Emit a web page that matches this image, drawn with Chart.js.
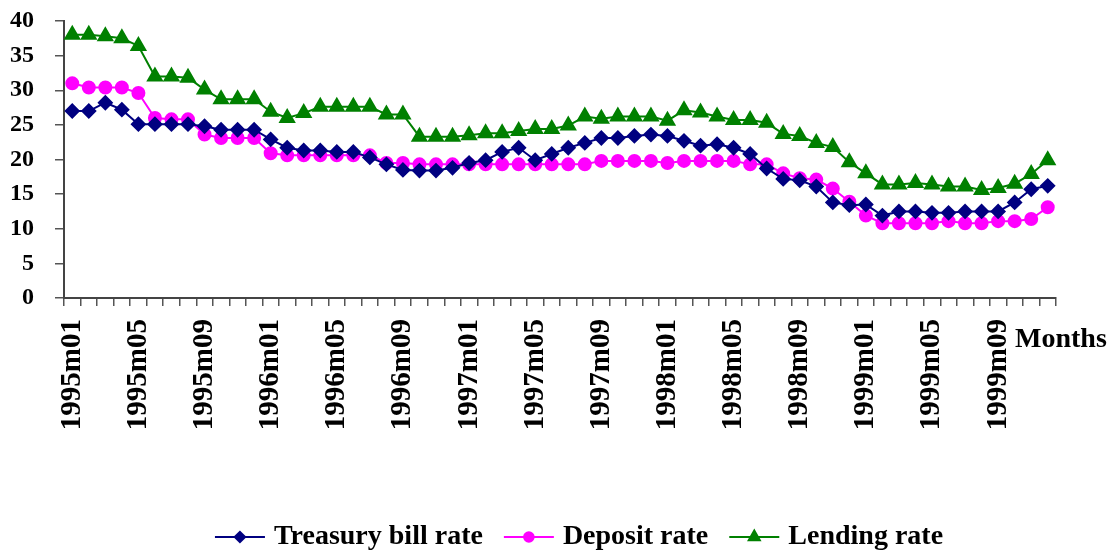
<!DOCTYPE html>
<html>
<head>
<meta charset="utf-8">
<script src="https://cdn.jsdelivr.net/npm/chart.js@4/dist/chart.umd.min.js"></script>
<style>
  html, body { margin: 0; padding: 0; background: #fff; overflow: hidden; }
  #wrap { width: 1115px; height: 554px; }
</style>
</head>
<body>
<div id="wrap"><canvas id="rates" width="1115" height="554"></canvas></div>
<script>
// months 1995m01 .. 1999m12
const months = [];
for (let y = 1995; y <= 1999; y++) {
    for (let m = 1; m <= 12; m++) months.push(y + 'm' + (m < 10 ? '0' + m : m));
}
const tickMonths = ['1995m01', '1995m05', '1995m09', '1996m01', '1996m05', '1996m09',
    '1997m01', '1997m05', '1997m09', '1998m01', '1998m05', '1998m09',
    '1999m01', '1999m05', '1999m09'];

const treasuryRate = [27.0, 27.0, 28.2, 27.2, 25.1, 25.1, 25.1, 25.1, 24.8, 24.3, 24.3, 24.3,
    22.9, 21.7, 21.3, 21.3, 21.1, 21.1, 20.3, 19.3, 18.5, 18.4, 18.4, 18.8,
    19.5, 19.9, 21.1, 21.7, 19.9, 20.8, 21.7, 22.4, 23.1, 23.1, 23.4, 23.6,
    23.4, 22.7, 22.0, 22.2, 21.7, 20.8, 18.7, 17.2, 17.0, 16.1, 13.8, 13.4,
    13.5, 11.9, 12.5, 12.5, 12.3, 12.3, 12.5, 12.5, 12.5, 13.8, 15.7, 16.2];
const depositRate = [31.0, 30.4, 30.4, 30.4, 29.6, 26.0, 25.8, 25.8, 23.6, 23.1, 23.1, 23.1,
    20.9, 20.6, 20.6, 20.6, 20.6, 20.6, 20.6, 19.5, 19.5, 19.3, 19.3, 19.3,
    19.3, 19.3, 19.3, 19.3, 19.3, 19.3, 19.3, 19.3, 19.8, 19.8, 19.8, 19.8,
    19.5, 19.8, 19.8, 19.8, 19.8, 19.3, 19.3, 18.0, 17.3, 17.1, 15.8, 13.9,
    11.9, 10.8, 10.8, 10.8, 10.8, 11.1, 10.8, 10.8, 11.1, 11.1, 11.4, 13.1];
const lendingRate = [38.0, 38.0, 37.8, 37.5, 36.4, 32.0, 32.0, 31.8, 30.1, 28.7, 28.7, 28.7,
    26.9, 26.0, 26.7, 27.6, 27.6, 27.6, 27.6, 26.5, 26.5, 23.3, 23.3, 23.3,
    23.5, 23.8, 23.8, 24.1, 24.4, 24.4, 24.9, 26.2, 25.9, 26.2, 26.2, 26.2,
    25.6, 27.1, 26.8, 26.2, 25.7, 25.7, 25.3, 23.7, 23.4, 22.4, 21.8, 19.6,
    18.0, 16.4, 16.4, 16.6, 16.4, 16.1, 16.1, 15.6, 15.9, 16.5, 17.9, 19.9];

const FONT = "'Liberation Serif', 'Times New Roman', serif";
Chart.defaults.font.family = FONT;
Chart.defaults.font.weight = 'bold';
Chart.defaults.color = '#000';

// "Months" text next to the x axis
const monthsTitle = {
    id: 'monthsTitle',
    afterDraw(chart) {
        const ctx = chart.ctx, a = chart.chartArea;
        ctx.save();
        ctx.font = 'bold 28px ' + FONT;
        ctx.fillStyle = '#000';
        ctx.textBaseline = 'alphabetic';
        ctx.fillText('Months', a.right - 41, a.bottom + 49);
        ctx.restore();
    }
};

// legend: short line with the marker on it, then the label
const lineLegend = {
    id: 'lineLegend',
    afterDraw(chart) {
        const ctx = chart.ctx;
        const sets = chart.data.datasets;
        const lineW = 50, gap = 9, between = 21, cy = 537;
        ctx.save();
        ctx.font = 'bold 28px ' + FONT;
        const widths = sets.map(d => ctx.measureText(d.label).width);
        let total = widths.reduce((s, w) => s + lineW + gap + w, 0) + between * (sets.length - 1);
        let x = 579 - total / 2;
        sets.forEach((d, i) => {
            ctx.strokeStyle = d.borderColor;
            ctx.lineWidth = 2;
            ctx.beginPath();
            ctx.moveTo(x, cy);
            ctx.lineTo(x + lineW, cy);
            ctx.stroke();
            Chart.helpers.drawPoint(ctx, {
                pointStyle: d.pointStyle, radius: d.pointRadius * 0.8,
                borderWidth: 1, rotation: 0
            }, x + lineW / 2, cy);
            ctx.fillStyle = d.borderColor;
            ctx.fill();
            ctx.fillStyle = '#000';
            ctx.textBaseline = 'middle';
            ctx.fillText(d.label, x + lineW + gap, cy);
            x += lineW + gap + widths[i] + between;
        });
        ctx.restore();
    }
};

function series(label, data, color, style, r) {
    return {
        label: label,
        data: data,
        borderColor: color,
        backgroundColor: color,
        pointBackgroundColor: color,
        pointBorderColor: color,
        borderWidth: 2,
        pointStyle: style,
        pointRadius: r,
        pointHoverRadius: r,
        tension: 0
    };
}

new Chart(document.getElementById('rates'), {
    type: 'line',
    data: {
        labels: months,
        datasets: [
            series('Treasury bill rate', treasuryRate, '#000080', 'rectRot', 6.5),
            series('Deposit rate', depositRate, '#FF00FF', 'circle', 6),
            series('Lending rate', lendingRate, '#008000', 'triangle', 8)
        ]
    },
    options: {
        responsive: false,
        animation: false,
        events: [],
        layout: { padding: { top: 21, right: 59, left: 0, bottom: 0 } },
        plugins: { legend: { display: false }, tooltip: { enabled: false } },
        scales: {
            x: {
                offset: true,
                grid: { offset: true, drawOnChartArea: false, tickLength: 8, color: '#555', lineWidth: 1.5 },
                border: { color: '#444', width: 2 },
                ticks: {
                    autoSkip: false, minRotation: 90, maxRotation: 90, padding: 13,
                    font: { size: 29, weight: 'bold' },
                    callback: function (v, i) {
                        const m = this.getLabelForValue(v);
                        return tickMonths.includes(m) ? m : '';
                    }
                },
                afterFit: s => { s.height = 554 - 298; }
            },
            y: {
                min: 0, max: 40,
                grid: { drawOnChartArea: false, tickLength: 9, color: '#555', lineWidth: 1.5 },
                border: { color: '#444', width: 2 },
                ticks: { stepSize: 5, autoSkip: false, padding: 21, font: { size: 24, weight: 'bold' } },
                afterFit: s => { s.width = 64; s.paddingTop = 0; s.paddingBottom = 0; }
            }
        }
    },
    plugins: [monthsTitle, lineLegend]
});
</script>
</body>
</html>
